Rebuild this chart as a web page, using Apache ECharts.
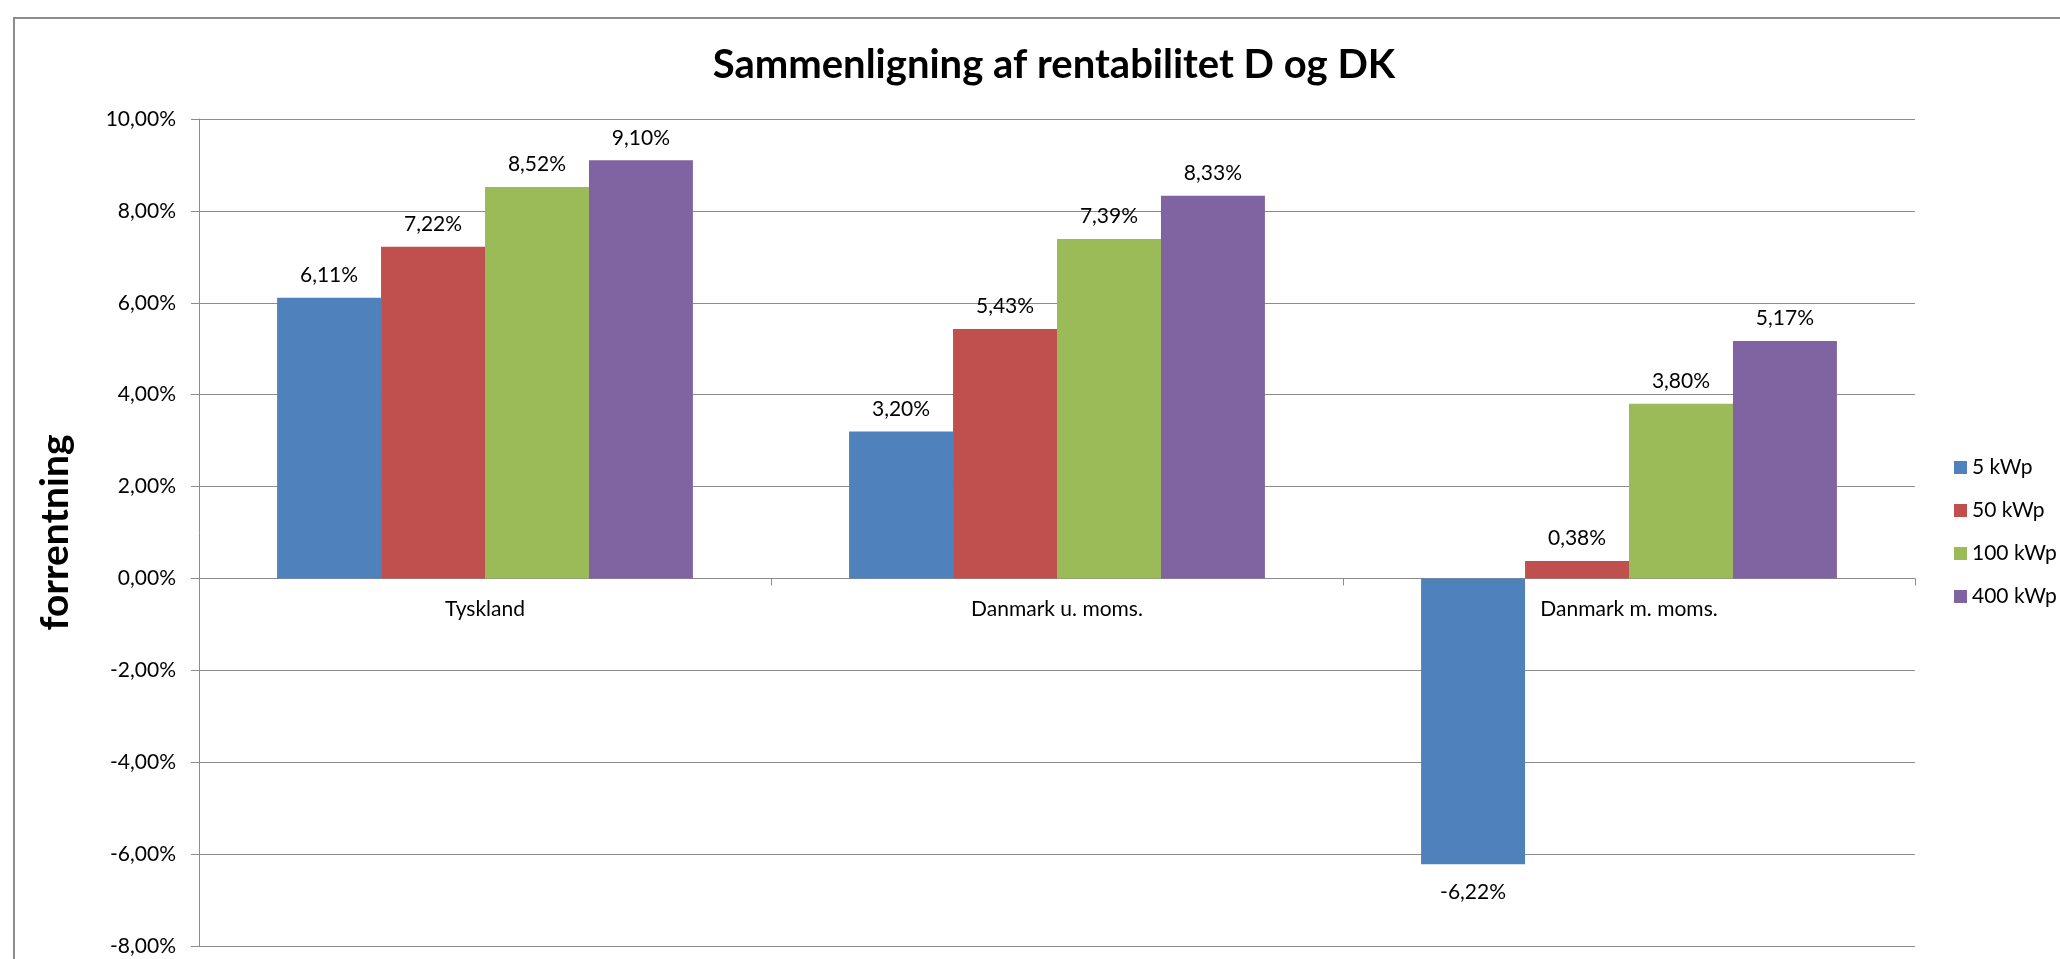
<!DOCTYPE html>
<html>
<head>
<meta charset="utf-8">
<script src="https://cdn.jsdelivr.net/npm/echarts@6/dist/echarts.min.js"></script>
<style>
  html, body { margin: 0; padding: 0; background: #fff; }
  #chart { width: 2060px; height: 959px; }
</style>
</head>
<body>
<div id="chart"></div>
<script>
const categories = ['Tyskland', 'Danmark u. moms.', 'Danmark m. moms.'];
const seriesNames = ['5 kWp', '50 kWp', '100 kWp', '400 kWp'];
const kwp5 = [6.11, 3.20, -6.22];
const kwp50 = [7.22, 5.43, 0.38];
const kwp100 = [8.52, 7.39, 3.80];
const kwp400 = [9.10, 8.33, 5.17];
const yTicks = { min: -8, max: 10, step: 2 };
const colors = ['#4F81BD', '#C0504D', '#9BBB59', '#8064A2'];

const FONT = 'Lato, "Open Sans", sans-serif';
const GRID_TOP = 119, GRID_BOTTOM_Y = 946;

function pct(v) {
  return v.toFixed(2).replace('.', ',') + '%';
}

// Excel puts labels a bit further away below negative bars
function toData(values) {
  return values.map(v => v < 0 ? { value: v, label: { distance: 18 } } : v);
}

function makeSeries(name, values, color) {
  return {
    name: name,
    type: 'bar',
    data: toData(values),
    barGap: '0%',
    barCategoryGap: '27.3%',
    itemStyle: { color: color },
    label: {
      show: true,
      position: 'outside',
      distance: 12,
      color: '#000',
      fontFamily: FONT,
      fontSize: 21,
      formatter: p => pct(p.value)
    }
  };
}

// category axis sits on the zero line: shift it up from the grid bottom
const pxPerUnit = (GRID_BOTTOM_Y - GRID_TOP) / (yTicks.max - yTicks.min);
const zeroOffset = -(0 - yTicks.min) * pxPerUnit;

const chart = echarts.init(document.getElementById('chart'), null, {
  renderer: 'canvas',
  devicePixelRatio: 1
});

chart.setOption({
  animation: false,
  backgroundColor: '#fff',
  title: {
    text: 'Sammenligning af rentabilitet D og DK',
    left: 1049,
    textAlign: 'center',
    top: 40,
    textStyle: {
      fontFamily: FONT,
      fontWeight: 'bold',
      fontSize: 40,
      color: '#000'
    }
  },
  graphic: [{
    type: 'rect',
    shape: { x: 14, y: 18, width: 2100, height: 1000 },
    style: { fill: 'none', stroke: '#8c8c8c', lineWidth: 2 },
    silent: true,
    z: -1
  }],
  legend: {
    orient: 'vertical',
    left: 1954,
    top: 457,
    padding: 0,
    itemWidth: 13,
    itemHeight: 13,
    itemGap: 22,
    icon: 'rect',
    data: seriesNames,
    textStyle: { fontFamily: FONT, fontSize: 21, color: '#000' }
  },
  grid: {
    left: 199,
    right: 2060 - 1915,
    top: GRID_TOP,
    bottom: 959 - GRID_BOTTOM_Y,
    containLabel: false
  },
  xAxis: {
    type: 'category',
    data: categories,
    position: 'bottom',
    offset: zeroOffset,
    axisLine: { onZero: false, lineStyle: { color: '#8c8c8c', width: 1 } },
    axisTick: { show: true, length: 7, lineStyle: { color: '#8c8c8c' } },
    axisLabel: { margin: 20, color: '#000', fontFamily: FONT, fontSize: 21 },
    splitLine: { show: false }
  },
  yAxis: {
    type: 'value',
    min: yTicks.min,
    max: yTicks.max,
    interval: yTicks.step,
    name: 'forrentning',
    nameLocation: 'middle',
    nameRotate: 90,
    nameGap: 124,
    nameTextStyle: { fontFamily: FONT, fontWeight: 'bold', fontSize: 39, color: '#000' },
    axisLine: { show: true, lineStyle: { color: '#8c8c8c', width: 1 } },
    axisTick: { show: true, length: 8, lineStyle: { color: '#8c8c8c' } },
    axisLabel: {
      margin: 23,
      color: '#000',
      fontFamily: FONT,
      fontSize: 21,
      formatter: v => pct(v)
    },
    splitLine: { show: true, lineStyle: { color: '#8c8c8c', width: 1 } }
  },
  series: [
    makeSeries(seriesNames[0], kwp5, colors[0]),
    makeSeries(seriesNames[1], kwp50, colors[1]),
    makeSeries(seriesNames[2], kwp100, colors[2]),
    makeSeries(seriesNames[3], kwp400, colors[3])
  ]
});
</script>
</body>
</html>
